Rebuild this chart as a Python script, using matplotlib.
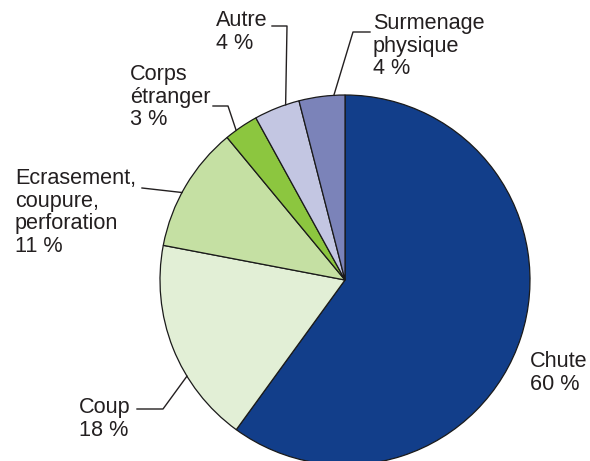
import numpy as np
import matplotlib.pyplot as plt

# data, clockwise from 12 o'clock
categories = ["Chute", "Coup", "Ecrasement,\ncoupure,\nperforation",
              "Corps\nétranger", "Autre", "Surmenage\nphysique"]
shares = [60, 18, 11, 3, 4, 4]
colors = ["#123e8a", "#e2efd6", "#c5e0a3", "#8cc63f", "#c3c6e2", "#7b83b9"]

W, H = 590, 461
TXT = "#231f20"

plt.rcParams['font.family'] = ['Liberation Sans', 'DejaVu Sans']

fig = plt.figure(figsize=(W / 100, H / 100), dpi=100)
ax = fig.add_axes([0, 0, 1, 1])

cx, cy, r = 345, H - 280, 185
wedges, _ = ax.pie(shares, colors=colors, startangle=90, counterclock=False,
                   center=(cx, cy), radius=r, frame=True,
                   wedgeprops=dict(edgecolor='#1a1a1a', linewidth=0.9))
ax.set_xlim(0, W)
ax.set_ylim(0, H)
ax.set_aspect('equal')
ax.axis('off')


def px(x, y):
    return x, H - y


# label layout: text top-left (px), elbow points (px), where along the wedge the leader meets the rim
layout = [
    dict(xy=(530, 351), elbow=None, frac=None),
    dict(xy=(79, 397), elbow=[(137, 409), (163, 409)], frac=0.65),
    dict(xy=(15, 168), elbow=[(142, 188)], frac=0.56),
    dict(xy=(130, 64), elbow=[(213, 106), (228, 106)], frac=0.67),
    dict(xy=(216, 10), elbow=[(272, 26), (287, 26)], frac=0.30),
    dict(xy=(373, 13), elbow=[(370, 32), (353, 32)], frac=0.24),
]

for w, cat, val, lay in zip(wedges, categories, shares, layout):
    x, y = px(*lay['xy'])
    ax.text(x, y, f"{cat}\n{val} %", ha='left', va='top', fontsize=15.6,
            color=TXT, linespacing=1.1)
    if lay['elbow'] is None:
        continue
    ang = np.deg2rad(w.theta1 + lay['frac'] * (w.theta2 - w.theta1))
    pts = [px(*p) for p in lay['elbow']] + [(cx + r * np.cos(ang), cy + r * np.sin(ang))]
    xs, ys = zip(*pts)
    ax.plot(xs, ys, color=TXT, linewidth=1.0)

fig.savefig("out.png", dpi=100)
